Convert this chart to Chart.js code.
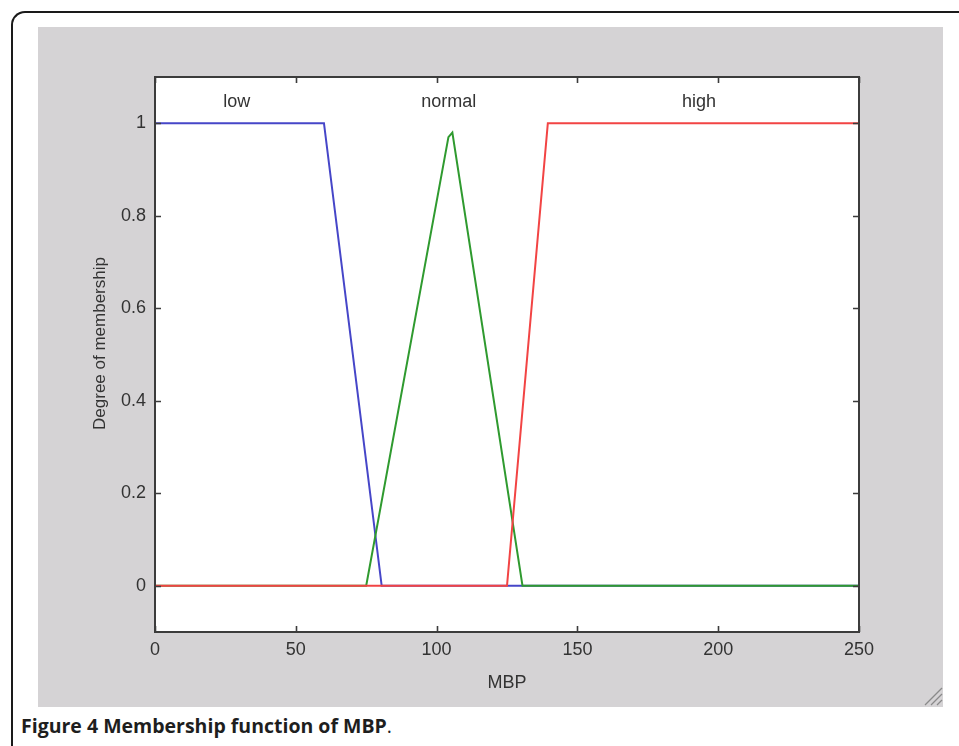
<!DOCTYPE html>
<html>
<head>
<meta charset="utf-8">
<script src="https://cdn.jsdelivr.net/npm/chart.js@4/dist/chart.umd.min.js"></script>
<style>
  html, body { margin: 0; padding: 0; background: #ffffff; width: 959px; height: 746px; overflow: hidden; }
  #frame { position: absolute; left: 11px; top: 11px; width: 1000px; height: 800px;
           border-left: 2px solid #1a1a1a; border-top: 2px solid #1a1a1a; border-top-left-radius: 14px; }
  #panel { position: absolute; left: 38px; top: 27px; width: 905px; height: 680px; background: #d5d3d5; }
  #panel canvas { position: absolute; left: 0; top: 0; }
  #grip { position: absolute; left: 923px; top: 686px; }
  #caption { position: absolute; left: 21px; top: 712px; font-family: "Open Sans", sans-serif;
             font-size: 19.5px; color: #1e1e1e; white-space: nowrap; }
  #caption b { font-weight: 700; }
</style>
</head>
<body>
<div id="frame"></div>
<div id="panel"><canvas id="c" width="905" height="680"></canvas></div>
<svg id="grip" width="20" height="20" viewBox="0 0 20 20">
  <line x1="2" y1="19" x2="19" y2="2" stroke="#8a8a8a" stroke-width="1.3"/>
  <line x1="8" y1="19" x2="19" y2="8" stroke="#8a8a8a" stroke-width="1.3"/>
  <line x1="14" y1="19" x2="19" y2="14" stroke="#8a8a8a" stroke-width="1.3"/>
</svg>
<div id="caption"><b>Figure 4</b> <b>Membership function of MBP</b>.</div>
<script>
// ---- data ----
const lowX    = [0, 60, 80.5, 250];
const lowY    = [1, 1, 0, 0];
const normalX = [0, 75, 104.2, 105.6, 130.5, 250];
const normalY = [0, 0, 0.97, 0.98, 0, 0];
const highX   = [0, 125, 139.5, 250];
const highY   = [0, 0, 1, 1];
const xTicks  = [0, 50, 100, 150, 200, 250];
const yTicks  = [0, 0.2, 0.4, 0.6, 0.8, 1];
const yTickLabels = ['0', '0.2', '0.4', '0.6', '0.8', '1'];
const mfNames = ['low', 'normal', 'high'];
const mfLabelX = [29, 104.3, 193.2];
const mfLabelY = 1.046;
const yTitle = 'Degree of membership';

const toPts = (xs, ys) => xs.map((x, i) => ({ x: x, y: ys[i] }));

const boxPlugin = {
  id: 'boxPlugin',
  beforeDatasetsDraw(chart) {
    const ctx = chart.ctx, a = chart.chartArea;
    ctx.save();
    ctx.fillStyle = '#ffffff';
    ctx.fillRect(a.left, a.top, a.right - a.left, a.bottom - a.top);
    ctx.restore();
  },
  afterDatasetsDraw(chart) {
    const ctx = chart.ctx;
    const a = chart.chartArea;
    const xs = chart.scales.x, ys = chart.scales.y;
    ctx.save();
    ctx.strokeStyle = '#3c3c3c';
    ctx.lineWidth = 2;
    ctx.strokeRect(a.left, a.top, a.right - a.left, a.bottom - a.top);
    const tl = 6;
    ctx.lineWidth = 1.6;
    ctx.beginPath();
    xTicks.forEach(v => {
      const px = Math.round(xs.getPixelForValue(v)) + 0.5;
      ctx.moveTo(px, a.bottom); ctx.lineTo(px, a.bottom - tl);
      ctx.moveTo(px, a.top); ctx.lineTo(px, a.top + tl);
    });
    yTicks.forEach(v => {
      const py = Math.round(ys.getPixelForValue(v)) + 0.5;
      ctx.moveTo(a.left, py); ctx.lineTo(a.left + tl, py);
      ctx.moveTo(a.right, py); ctx.lineTo(a.right - tl, py);
    });
    ctx.stroke();
    ctx.fillStyle = '#333333';
    ctx.font = '18px "Liberation Sans", Arial, sans-serif';
    ctx.textAlign = 'center';
    ctx.textBaseline = 'middle';
    mfNames.forEach((n, i) => {
      ctx.fillText(n, xs.getPixelForValue(mfLabelX[i]), ys.getPixelForValue(mfLabelY));
    });
    // y-axis title
    ctx.font = '17px "Liberation Sans", Arial, sans-serif';
    ctx.translate(62, (a.top + a.bottom) / 2 - 11);
    ctx.rotate(-Math.PI / 2);
    ctx.fillText(yTitle, 0, 0);
    ctx.restore();
  }
};

const tickFont = { family: '"Liberation Sans", Arial, sans-serif', size: 18 };

new Chart(document.getElementById('c'), {
  type: 'line',
  data: {
    datasets: [
      { label: 'low', data: toPts(lowX, lowY), borderColor: '#4646c8', order: 3 },
      { label: 'normal', data: toPts(normalX, normalY), borderColor: '#2f9a2f', order: 2 },
      { label: 'high', data: toPts(highX, highY), borderColor: '#f24444', order: 1 }
    ]
  },
  options: {
    responsive: false,
    devicePixelRatio: 1,
    animation: false,
    parsing: false,
    layout: { padding: { top: 50, right: 84, left: 0, bottom: 0 } },
    elements: { line: { borderWidth: 2, tension: 0, fill: false }, point: { radius: 0 } },
    plugins: { legend: { display: false }, tooltip: { enabled: false } },
    scales: {
      x: {
        type: 'linear', min: 0, max: 250,
        afterBuildTicks: s => { s.ticks = xTicks.map(v => ({ value: v })); },
        afterFit: s => { s.height = 75; },
        grid: { display: false, drawTicks: false },
        border: { display: false },
        ticks: { color: '#333333', font: tickFont, padding: 7, maxRotation: 0,
                 callback: v => String(v) },
        title: { display: true, text: 'MBP', color: '#333333', font: tickFont,
                 padding: { top: 0, bottom: 13 } }
      },
      y: {
        type: 'linear', min: -0.1, max: 1.1,
        afterBuildTicks: s => { s.ticks = yTicks.map(v => ({ value: v })); },
        afterFit: s => { s.width = 117; },
        grid: { display: false, drawTicks: false },
        border: { display: false },
        ticks: { color: '#333333', font: tickFont, padding: 9,
                 callback: v => { const i = yTicks.findIndex(t => Math.abs(t - v) < 1e-9); return i >= 0 ? yTickLabels[i] : ''; } },
        title: { display: false }
      }
    }
  },
  plugins: [boxPlugin]
});
</script>
</body>
</html>
